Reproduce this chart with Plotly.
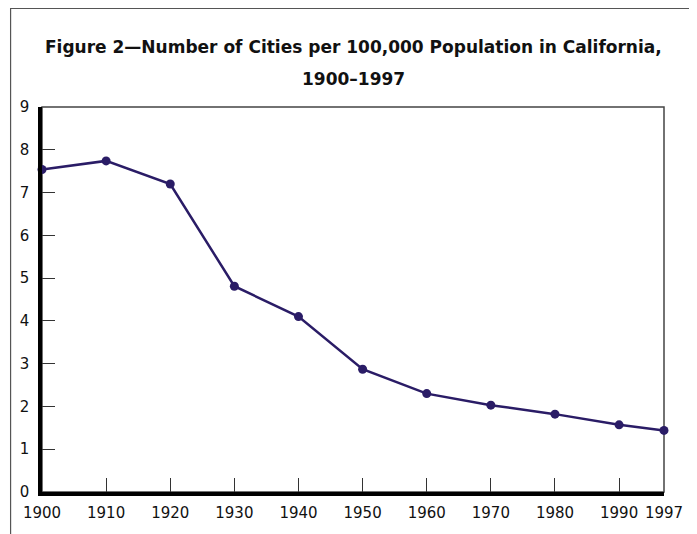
import plotly.graph_objects as go

years = [1900, 1910, 1920, 1930, 1940, 1950, 1960, 1970, 1980, 1990, 1997]
cities_per_100k = [7.54, 7.74, 7.20, 4.81, 4.10, 2.87, 2.30, 2.03, 1.82, 1.57, 1.44]

x_ticks = [1900, 1910, 1920, 1930, 1940, 1950, 1960, 1970, 1980, 1990, 1997]
y_ticks = [0, 1, 2, 3, 4, 5, 6, 7, 8, 9]

TITLE_FONT = "DejaVu Sans, Arial, sans-serif"
TICK_FONT = "DejaVu Sans, Arial, sans-serif"
LINE_COLOR = "#2a1c66"

fig = go.Figure()
fig.add_trace(go.Scatter(
    x=years,
    y=cities_per_100k,
    mode="lines+markers",
    line=dict(color=LINE_COLOR, width=2.5),
    marker=dict(color=LINE_COLOR, size=9),
    cliponaxis=False,
    showlegend=False,
))

# outer frame round the whole figure (bottom edge runs off the page)
fig.add_shape(type="rect", xref="paper", yref="paper",
              x0=-0.0505, x1=1.048, y0=-0.35, y1=1.2558,
              line=dict(color="#555555", width=1.2), layer="below")
# thin box round the plot area (top and right sides show)
fig.add_shape(type="rect", xref="paper", yref="paper",
              x0=0, x1=1, y0=0, y1=1,
              line=dict(color="#444444", width=1.5), layer="below")

fig.add_annotation(text="<b>Figure 2\u2014Number of Cities per 100,000 Population in California,</b>",
                   xref="paper", yref="paper", x=0.5, y=1.156, yanchor="middle",
                   showarrow=False,
                   font=dict(family=TITLE_FONT, size=17, color="#111111"))
fig.add_annotation(text="<b>1900\u20131997</b>",
                   xref="paper", yref="paper", x=0.5, y=1.0727, yanchor="middle",
                   showarrow=False,
                   font=dict(family=TITLE_FONT, size=17, color="#111111"))

fig.update_xaxes(
    range=[1900, 1997],
    tickvals=x_ticks,
    ticktext=[str(t) for t in x_ticks],
    ticks="inside", ticklen=14, tickwidth=1, tickcolor="#333333",
    showline=True, linewidth=3.5, linecolor="black",
    showgrid=False, zeroline=False,
    tickfont=dict(family=TICK_FONT, size=15, color="#111111"),
    ticklabelstandoff=4,
)
fig.update_yaxes(
    range=[0, 9],
    tickvals=y_ticks,
    ticks="inside", ticklen=13, tickwidth=1, tickcolor="#333333",
    showline=True, linewidth=3.5, linecolor="black",
    showgrid=False, zeroline=False,
    tickfont=dict(family=TICK_FONT, size=15, color="#111111"),
    ticklabelstandoff=6,
)

fig.update_layout(
    width=697, height=534,
    margin=dict(l=32, r=41, t=99, b=50),
    paper_bgcolor="white", plot_bgcolor="white",
    font=dict(family=TICK_FONT),
)

fig.write_html("out.html")
